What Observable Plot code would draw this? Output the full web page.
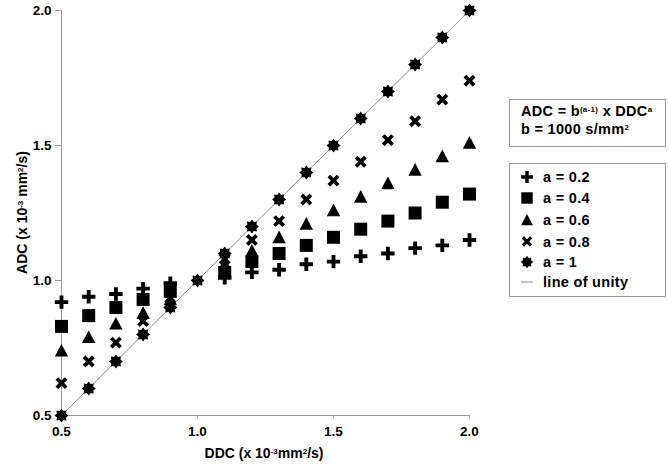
<!DOCTYPE html>
<html><head><meta charset="utf-8">
<script src="https://cdn.jsdelivr.net/npm/d3@7"></script>
<script src="https://cdn.jsdelivr.net/npm/@observablehq/plot@0.6"></script>
<style>
body{margin:0;background:#fff}
#chart{position:relative;width:668px;height:469px}
</style>
</head><body><div id="chart"></div>
<script>
// DDC values (x 10^-3 mm^2/s)
const ddc = [0.5, 0.6, 0.7, 0.8, 0.9, 1.1, 1.2, 1.3, 1.4, 1.5, 1.6, 1.7, 1.8, 1.9, 2.0];
const ddcA1 = [0.5, 0.6, 0.7, 0.8, 0.9, 1.0, 1.1, 1.2, 1.3, 1.4, 1.5, 1.6, 1.7, 1.8, 1.9, 2.0];
// ADC values
const adcA02 = [0.92, 0.94, 0.95, 0.97, 0.99, 1.01, 1.03, 1.04, 1.06, 1.07, 1.09, 1.10, 1.12, 1.13, 1.15];
const adcA04 = [0.83, 0.87, 0.90, 0.93, 0.96, 1.03, 1.07, 1.10, 1.13, 1.16, 1.19, 1.22, 1.25, 1.29, 1.32];
const adcA06 = [0.74, 0.79, 0.84, 0.88, 0.93, 1.06, 1.11, 1.16, 1.21, 1.26, 1.31, 1.36, 1.41, 1.46, 1.51];
const adcA08 = [0.62, 0.70, 0.77, 0.85, 0.91, 1.08, 1.15, 1.22, 1.30, 1.37, 1.44, 1.52, 1.59, 1.67, 1.74];
const adcA1  = [0.5, 0.6, 0.7, 0.8, 0.9, 1.0, 1.1, 1.2, 1.3, 1.4, 1.5, 1.6, 1.7, 1.8, 1.9, 2.0];
const seriesLabels = ["a = 0.2", "a = 0.4", "a = 0.6", "a = 0.8", "a = 1"];
const unityLabel = "line of unity";
const unityLine = [0.5, 2.0];
const tickValues = [0.5, 1.0, 1.5, 2.0];

// custom marker shapes
function poly(ctx, pts) {
  ctx.moveTo(pts[0][0], pts[0][1]);
  for (let i = 1; i < pts.length; i++) ctx.lineTo(pts[i][0], pts[i][1]);
  ctx.closePath();
}
function plusPts(r, t) {
  return [[-t,-r],[t,-r],[t,-t],[r,-t],[r,t],[t,t],[t,r],[-t,r],[-t,t],[-r,t],[-r,-t],[-t,-t]];
}
const rOf = size => Math.sqrt(size / Math.PI);
const symPlus = {draw(ctx, size) { const r = rOf(size); poly(ctx, plusPts(r, r * 0.29)); }};
const symSquare = {draw(ctx, size) { const h = rOf(size) * 0.97; ctx.rect(-h, -h, 2 * h, 2 * h); }};
const symTri = {draw(ctx, size) { const r = rOf(size); poly(ctx, [[0, -r * 1.0], [r, r * 0.88], [-r, r * 0.88]]); }};
const symTimes = {draw(ctx, size) {
  const r = rOf(size), c = Math.SQRT1_2;
  poly(ctx, plusPts(r * 0.98, r * 0.28).map(([x, y]) => [c * (x - y), c * (x + y)]));
}};
const symAst = {draw(ctx, size) {
  const r = rOf(size), pts = [];
  for (let k = 0; k < 16; k++) {
    const ang = k * Math.PI / 8 - Math.PI / 2, rr = k % 2 === 0 ? r * 1.05 : r * 0.74;
    pts.push([rr * Math.cos(ang), rr * Math.sin(ang)]);
  }
  poly(ctx, pts);
}};
const symbols = [symPlus, symSquare, symTri, symTimes, symAst];

const seriesData = [
  ddc.map((x, i) => ({x, y: adcA02[i]})),
  ddc.map((x, i) => ({x, y: adcA04[i]})),
  ddc.map((x, i) => ({x, y: adcA06[i]})),
  ddc.map((x, i) => ({x, y: adcA08[i]})),
  ddcA1.map((x, i) => ({x, y: adcA1[i]}))
];

const axisColor = "#9a9a9a";
const fmt = d3.format(".1f");

const plot = Plot.plot({
  width: 668, height: 469,
  marginLeft: 61, marginRight: 199, marginTop: 10, marginBottom: 54,
  style: {fontFamily: "'Liberation Sans', Arial, sans-serif", fontSize: "13.5px", fontWeight: "bold", background: "white", color: "black", overflow: "visible"},
  x: {domain: [0.5, 2.0], nice: false},
  y: {domain: [0.5, 2.0], nice: false},
  marks: [
    Plot.ruleX([0.5], {stroke: axisColor}),
    Plot.ruleY([0.5], {stroke: axisColor}),
    Plot.axisY({ticks: tickValues, tickFormat: fmt, tickSize: 6, tickPadding: 4, stroke: axisColor, fill: "black", label: null}),
    Plot.axisX({ticks: tickValues, tickFormat: fmt, tickSize: 4, tickPadding: 7, stroke: axisColor, fill: "black", label: null}),
    Plot.line(unityLine, {x: d => d, y: d => d, stroke: "#8a8a8a", strokeWidth: 1}),
    ...seriesData.map((data, i) => Plot.dot(data, {x: "x", y: "y", symbol: symbols[i], r: 6.7, fill: "black", stroke: "none"}))
  ]
});
document.getElementById("chart").appendChild(plot);

const svg = d3.select(plot);
const font = "'Liberation Sans', Arial, sans-serif";

function richText(g, x, y, parts, size, opts = {}) {
  const t = g.append("text").attr("x", x).attr("y", y)
    .attr("font-family", font).attr("font-weight", "bold").attr("font-size", size)
    .attr("fill", "black").attr("text-anchor", opts.anchor || "start")
    .attr("letter-spacing", opts.ls || 0);
  if (opts.transform) t.attr("transform", opts.transform);
  parts.forEach(p => {
    if (typeof p === "string") t.append("tspan").text(p);
    else t.append("tspan").attr("baseline-shift", "super").attr("font-size", p.size || 8).text(p.sup);
  });
  return t;
}

// axis labels
richText(svg, 0, 0, ["ADC (x 10", {sup: "-3"}, " mm", {sup: "2"}, "/s)"], 14,
  {anchor: "middle", transform: "translate(27,212.5) rotate(-90)"});
richText(svg, 264, 458, ["DDC (x 10", {sup: "-3"}, "mm", {sup: "2"}, "/s)"], 14, {anchor: "middle"});

// equation box
svg.append("rect").attr("x", 509.5).attr("y", 99.5).attr("width", 156).attr("height", 47)
  .attr("fill", "white").attr("stroke", axisColor);
richText(svg, 521, 116, ["ADC = b", {sup: "(a-1)"}, " x DDC", {sup: "a"}], 14.5, {ls: 0.3});
richText(svg, 521, 134, ["b = 1000 s/mm", {sup: "2"}], 14.5, {ls: 0.3});

// legend box
svg.append("rect").attr("x", 509.5).attr("y", 163.5).attr("width", 156).attr("height", 133)
  .attr("fill", "white").attr("stroke", axisColor);
const rowY = [177, 198, 220, 241.5, 262, 282];
seriesLabels.forEach((lab, i) => {
  svg.append("path").attr("d", d3.symbol(symbols[i], 5.9 * 5.9 * Math.PI)())
    .attr("transform", `translate(527,${rowY[i]})`).attr("fill", "black");
  richText(svg, 543, rowY[i] + 5, [lab], 14.5, {ls: 0.3});
});
svg.append("line").attr("x1", 521).attr("x2", 533).attr("y1", rowY[5]).attr("y2", rowY[5])
  .attr("stroke", "#8a8a8a").attr("stroke-width", 1);
richText(svg, 543, rowY[5] + 5, [unityLabel], 14.5, {ls: 0.3});
</script>
</body></html>
